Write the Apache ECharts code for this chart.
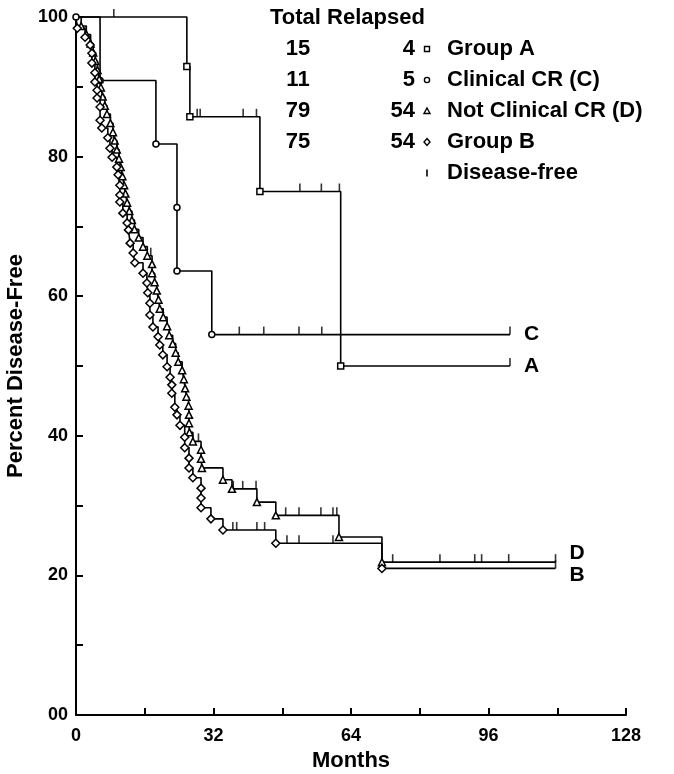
<!DOCTYPE html>
<html>
<head>
<meta charset="utf-8">
<script src="https://cdn.jsdelivr.net/npm/echarts@6/dist/echarts.min.js"></script>
<style>
  html, body { margin: 0; padding: 0; background: #fff; }
  #chart { width: 674px; height: 774px; }
</style>
</head>
<body>
<div id="chart"></div>
<script>
// legend table
const groupNames = ["Group A", "Clinical CR (C)", "Not Clinical CR (D)", "Group B"];
const groupTotals = [15, 11, 79, 75];
const groupRelapsed = [4, 5, 54, 54];
const curveLetters = ["A", "C", "D", "B"];
const censorName = "Disease-free";

// x/y tick labels
const monthTicks = [0, 32, 64, 96, 128];
const percentTicks = [0, 20, 40, 60, 80, 100];

// Group A (squares)
const monthsA = [0, 25.8, 26.5, 42.8, 61.6, 101];
const survA = [100, 92.9, 85.7, 75.0, 50.0, 50.0];
const censorA = [8.8, 28.2, 28.9, 38.9, 42.0, 52.1, 57.1, 61.3, 101];

// Clinical CR (C) (circles)
const monthsC = [0, 5.6, 18.6, 23.5, 23.5, 31.6, 101];
const survC = [100, 90.9, 81.8, 72.7, 63.6, 54.5, 54.5];
const censorC = [38.0, 43.7, 51.9, 57.2, 101];

// Not Clinical CR (D) (triangles)
const monthsD = [0, 1.2, 2.4, 3.4, 4.0, 4.5, 5.0, 5.4, 5.8, 6.2, 6.7, 7.2, 8.0, 8.6, 9.0, 9.5,
  10.0, 10.4, 10.8, 11.2, 11.5, 11.9, 12.4, 13.0, 13.6, 14.6, 15.6, 16.6, 17.7, 17.7, 18.3,
  18.8, 19.2, 19.5, 20.3, 21.2, 21.7, 22.5, 23.2, 23.8, 24.7, 25.1, 25.4, 25.7, 26.2, 26.3,
  26.3, 26.4, 27.2, 29.1, 29.1, 29.3, 34.2, 36.3, 42.1, 46.5, 61.2, 71.2, 111.6];
const survD = [100, 98.7, 97.5, 96.2, 94.9, 93.7, 92.4, 91.1, 89.9, 88.6, 87.3, 86.1, 84.8,
  83.5, 82.3, 81.0, 79.7, 78.5, 77.2, 75.9, 74.7, 73.4, 72.2, 70.9, 69.6, 68.4, 67.1, 65.8,
  64.6, 63.3, 62.0, 60.8, 59.5, 58.2, 57.0, 55.7, 54.4, 53.2, 51.9, 50.6, 49.4, 48.1, 46.8,
  45.6, 44.3, 43.0, 41.8, 40.5, 39.2, 38.0, 36.7, 35.4, 33.7, 32.4, 30.5, 28.6, 25.5, 21.9, 21.9];
const censorD = [9.6, 17.4, 28.5, 36.6, 38.8, 41.9, 48.8, 51.9, 57.0, 59.8, 60.7, 73.7,
  84.7, 92.8, 94.4, 100.7, 111.6];

// Group B (diamonds)
const monthsB = [0, 0.3, 2.1, 3.3, 3.7, 3.7, 4.4, 4.4, 4.9, 4.9, 5.6, 5.6, 6.0, 7.4, 7.9,
  8.4, 9.5, 9.8, 10.2, 10.2, 10.2, 10.9, 11.9, 12.2, 12.6, 13.3, 13.7, 15.6, 16.5, 16.7,
  17.2, 17.2, 17.9, 19.1, 19.5, 20.2, 21.2, 21.9, 22.3, 22.3, 23.0, 23.5, 24.2, 25.3, 25.3,
  26.3, 26.3, 27.2, 29.1, 29.1, 29.1, 31.4, 34.2, 46.5, 71.2, 111.6];
const survB = [100, 98.4, 97.1, 96.0, 94.8, 93.4, 92.0, 90.7, 89.5, 88.4, 87.1, 85.2, 84.1,
  82.7, 81.2, 79.9, 78.5, 77.4, 75.9, 74.5, 73.5, 71.9, 70.5, 69.5, 67.6, 66.2, 64.8, 63.3,
  61.9, 60.5, 59.0, 57.3, 55.6, 54.2, 53.0, 51.6, 49.9, 48.4, 47.3, 46.1, 44.1, 43.0, 41.5,
  39.8, 38.3, 36.8, 35.4, 34.0, 32.5, 31.1, 29.7, 28.1, 26.5, 24.6, 21.0, 21.0];
const censorB = [36.5, 37.4, 42.1, 43.9, 49.1, 51.9, 59.8, 111.6];

const font = "'Liberation Sans', Arial, Helvetica, sans-serif";

const groups = [
  { months: monthsA, surv: survA, censor: censorA, symbol: "rect", size: 6, hideFirst: true },
  { months: monthsC, surv: survC, censor: censorC, symbol: "circle", size: 6, hideFirst: false },
  { months: monthsD, surv: survD, censor: censorD, symbol: "triangle", size: 7, hideFirst: true },
  { months: monthsB, surv: survB, censor: censorB, symbol: "diamond", size: 8, hideFirst: true },
];

// 删失点的纵坐标：取该时刻的阶梯值
function survAt(g, t) {
  let v = g.surv[0];
  g.months.forEach((m, i) => {
    if (m <= t) v = g.surv[i];
  });
  return v;
}

// 终点字母的位置微调（D在上、B在下）
const letterOffset = [[0, 0], [0, 0], [0, -9], [0, 7]];

const lineSeries = groups.map((g, k) => ({
  name: groupNames[k],
  type: "line",
  step: "end",
  clip: false,
  z: 3,
  data: g.months.map((m, i) => {
    const hide = i === g.months.length - 1 || (i === 0 && g.hideFirst);
    return hide ? { value: [m, g.surv[i]], symbol: "none" } : [m, g.surv[i]];
  }),
  symbol: g.symbol,
  symbolSize: g.size,
  showAllSymbol: true,
  lineStyle: { color: "#000", width: 1.6 },
  itemStyle: { color: "#fff", borderColor: "#000", borderWidth: 1.5 },
  endLabel: {
    show: true,
    formatter: curveLetters[k],
    color: "#000",
    fontFamily: font,
    fontWeight: "bold",
    fontSize: 21,
    distance: 14,
    offset: letterOffset[k],
  },
}));

const censorData = [];
groups.forEach((g) => {
  g.censor.forEach((t) => censorData.push([t, survAt(g, t)]));
});

const censorSeries = {
  name: censorName,
  type: "scatter",
  clip: false,
  z: 4,
  data: censorData,
  symbol: "rect",
  symbolSize: [1.6, 8],
  symbolOffset: [0, -4],
  itemStyle: { color: "#000" },
};

// 图例（表格形式）
const legendX = { total: 298, relapsed: 415, symbol: 427, name: 447 };
const legendTop = 18;
const rowGap = 31;
const textStyle = (extra) =>
  Object.assign({ fill: "#000", font: "bold 22px " + font, textVerticalAlign: "middle" }, extra);

const legendGraphics = [
  { type: "text", x: 270, y: legendTop, style: textStyle({ text: "Total Relapsed", textAlign: "left" }) },
];
const symStyle = { fill: "#fff", stroke: "#000", lineWidth: 1.4 };
groupNames.forEach((name, i) => {
  const y = legendTop + rowGap * (i + 1);
  legendGraphics.push({ type: "text", x: legendX.total, y, style: textStyle({ text: String(groupTotals[i]), textAlign: "center" }) });
  legendGraphics.push({ type: "text", x: legendX.relapsed, y, style: textStyle({ text: String(groupRelapsed[i]), textAlign: "right" }) });
  legendGraphics.push({ type: "text", x: legendX.name, y, style: textStyle({ text: name, textAlign: "left" }) });
  const sx = legendX.symbol;
  let shape;
  if (i === 0) shape = { type: "rect", shape: { x: sx - 2.5, y: y - 2.5, width: 5, height: 5 } };
  else if (i === 1) shape = { type: "circle", shape: { cx: sx, cy: y, r: 2.6 } };
  else if (i === 2) shape = { type: "polygon", shape: { points: [[sx, y - 3], [sx + 3, y + 2.5], [sx - 3, y + 2.5]] } };
  else shape = { type: "polygon", shape: { points: [[sx, y - 3.5], [sx + 3, y], [sx, y + 3.5], [sx - 3, y]] } };
  shape.style = symStyle;
  legendGraphics.push(shape);
});
{
  const y = legendTop + rowGap * 5;
  legendGraphics.push({ type: "rect", shape: { x: legendX.symbol - 0.8, y: y - 3.5, width: 1.6, height: 7 }, style: { fill: "#000" } });
  legendGraphics.push({ type: "text", x: legendX.name, y, style: textStyle({ text: censorName, textAlign: "left" }) });
}

const myChart = echarts.init(document.querySelector("#chart"));
const option = {
  animation: false,
  backgroundColor: "#fff",
  grid: { left: 76, right: 48, top: 17, bottom: 59, containLabel: false, outerBoundsMode: "none" },
  xAxis: {
    type: "value",
    min: 0,
    max: 128,
    interval: 16,
    name: "Months",
    nameLocation: "middle",
    nameGap: 34,
    nameTextStyle: { color: "#000", fontFamily: font, fontWeight: "bold", fontSize: 22 },
    axisLine: { lineStyle: { color: "#000", width: 2 } },
    axisTick: { inside: true, length: 7, lineStyle: { color: "#000", width: 2 } },
    axisLabel: {
      color: "#000",
      fontFamily: font,
      fontWeight: "bold",
      fontSize: 18,
      margin: 12,
      formatter: (v) => (monthTicks.includes(v) ? String(v) : ""),
    },
    splitLine: { show: false },
  },
  yAxis: {
    type: "value",
    min: 0,
    max: 100,
    interval: 10,
    name: "Percent Disease-Free",
    nameLocation: "middle",
    nameGap: 46,
    nameTextStyle: { color: "#000", fontFamily: font, fontWeight: "bold", fontSize: 22 },
    axisLine: { show: true, lineStyle: { color: "#000", width: 2 } },
    axisTick: { show: true, inside: true, length: 7, lineStyle: { color: "#000", width: 2 } },
    axisLabel: {
      color: "#000",
      fontFamily: font,
      fontWeight: "bold",
      fontSize: 18,
      margin: 8,
      formatter: (v) => (percentTicks.includes(v) ? (v === 0 ? "00" : String(v)) : ""),
    },
    splitLine: { show: false },
  },
  graphic: legendGraphics,
  series: [...lineSeries, censorSeries],
};
myChart.setOption(option);
</script>
</body>
</html>
